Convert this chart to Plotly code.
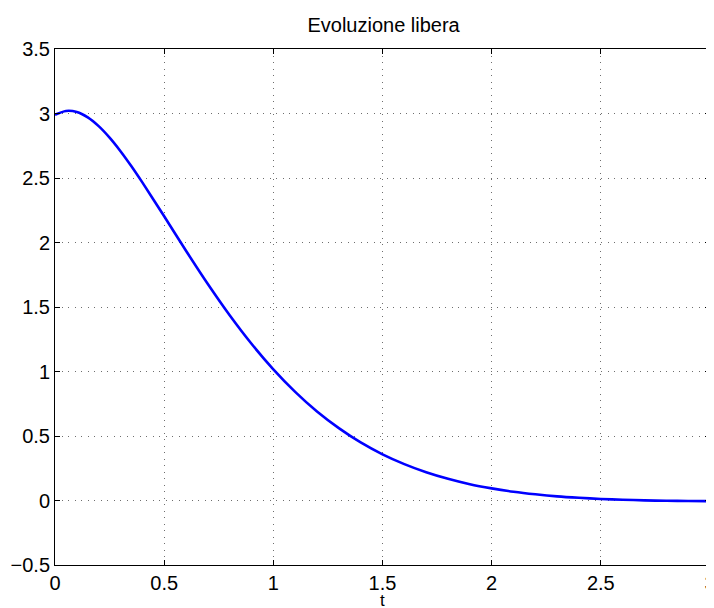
import plotly.graph_objects as go

t_vals = [0.0, 0.05, 0.1, 0.15, 0.2, 0.25, 0.3, 0.35, 0.4, 0.5, 0.6, 0.7, 0.8, 0.9, 1.0,
          1.1, 1.2, 1.3, 1.4, 1.5, 1.6, 1.7, 1.8, 1.9, 2.0, 2.1, 2.2, 2.3, 2.4, 2.5,
          2.6, 2.7, 2.8, 2.9, 3.0]
y_vals = [2.990, 3.020, 3.012, 2.970, 2.902, 2.813, 2.708, 2.591, 2.466, 2.203, 1.936,
          1.678, 1.436, 1.215, 1.017, 0.842, 0.690, 0.561, 0.450, 0.358, 0.282, 0.219,
          0.168, 0.126, 0.094, 0.068, 0.048, 0.032, 0.021, 0.012, 0.006, 0.001, -0.002,
          -0.004, -0.005]

x_ticks = [0, 0.5, 1, 1.5, 2, 2.5, 3]
x_tick_labels = ["0", "0.5", "1", "1.5", "2", "2.5", "3"]
y_ticks = [-0.5, 0, 0.5, 1, 1.5, 2, 2.5, 3, 3.5]
y_tick_labels = ["\u22120.5", "0", "0.5", "1", "1.5", "2", "2.5", "3", "3.5"]

title_text = "Evoluzione libera"
x_label = "t"

font_family = "Liberation Sans, Arial, Helvetica, sans-serif"
fsize = 20

fig = go.Figure()
fig.add_trace(go.Scatter(x=t_vals, y=y_vals, mode="lines",
                         line=dict(color="#0000FF", width=2.6, shape="spline", smoothing=0.8),
                         showlegend=False))

axis_common = dict(
    showline=True, linecolor="black", linewidth=1, mirror="ticks",
    ticks="inside", ticklen=5, tickcolor="black", tickwidth=1,
    showgrid=True, gridcolor="#6e6e6e", griddash="1px,5.5px", gridwidth=1,
    zeroline=False, automargin=False, ticklabeloverflow="allow",
    tickfont=dict(family=font_family, size=fsize, color="black"),
)

fig.update_xaxes(range=[0, 3], tickvals=x_ticks, ticktext=x_tick_labels,
                 ticklabelstandoff=0, **axis_common)
fig.update_yaxes(range=[-0.5, 3.5], tickvals=y_ticks, ticktext=y_tick_labels,
                 ticklabelstandoff=0, **axis_common)

fig.add_annotation(text=x_label, xref="paper", yref="paper", x=0.5, y=-0.069,
                   xanchor="center", yanchor="middle", showarrow=False,
                   font=dict(family=font_family, size=17, color="black"))

fig.update_layout(
    template="none",
    width=706, height=600,
    margin=dict(l=47, r=4, t=41, b=43),
    paper_bgcolor="white", plot_bgcolor="white",
    title=dict(text=title_text, x=0.532, xanchor="center", y=0.9717, yanchor="middle",
               font=dict(family=font_family, size=fsize, color="black")),
    font=dict(family=font_family),
)

fig.write_html("out.html")
